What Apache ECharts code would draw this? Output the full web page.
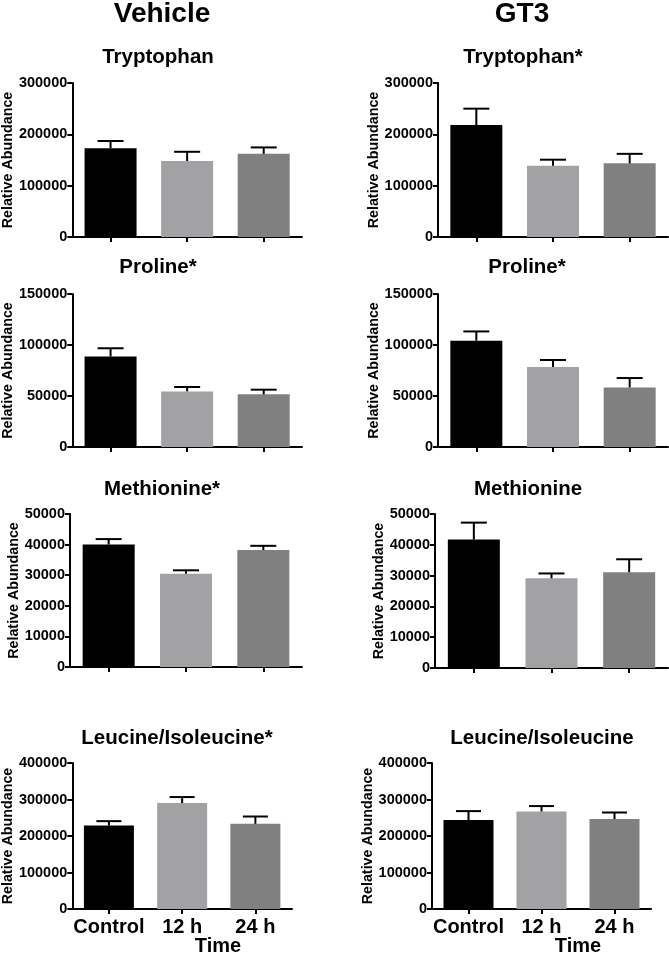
<!DOCTYPE html>
<html>
<head>
<meta charset="utf-8">
<script src="https://cdn.jsdelivr.net/npm/echarts@6/dist/echarts.min.js"></script>
<style>
  html, body { margin: 0; padding: 0; background: #fff; }
  #main { width: 669px; height: 955px; }
</style>
</head>
<body>
<div id="main"></div>
<script>
const categories = ['Control', '12 h', '24 h']
const barColors = ['#000000', '#a2a2a5', '#808080']

// Vehicle column
const vehTrpMean = [173000, 148000, 162000]
const vehTrpSem = [14000, 18000, 12500]
const vehProMean = [88800, 54500, 51600]
const vehProSem = [8000, 4300, 4600]
const vehMetMean = [40000, 30500, 38200]
const vehMetSem = [1800, 1100, 1400]
const vehLeuMean = [228700, 290200, 233400]
const vehLeuSem = [12000, 16500, 20000]

// GT3 column
const gtTrpMean = [218000, 139000, 143500]
const gtTrpSem = [32000, 11600, 18500]
const gtProMean = [104200, 78400, 58400]
const gtProSem = [9100, 6900, 9200]
const gtMetMean = [41700, 29100, 31100]
const gtMetSem = [5500, 1600, 4200]
const gtLeuMean = [243500, 267100, 246300]
const gtLeuSem = [24700, 14900, 18100]

// y axis ranges [max, interval]
const trpAxis = [300000, 100000]
const proAxis = [150000, 50000]
const metAxis = [50000, 10000]
const leuAxis = [400000, 100000]

const font = '"Liberation Sans", Arial, sans-serif'

const panels = [
  { title: 'Tryptophan', tx: 158, ty: 57, grid: { left: 71, top: 83, width: 231, height: 154 }, axis: trpAxis, mean: vehTrpMean, sem: vehTrpSem, gap: 49, barW: 52, labels: false },
  { title: 'Tryptophan*', tx: 523, ty: 57, grid: { left: 438, top: 83, width: 230, height: 154 }, axis: trpAxis, mean: gtTrpMean, sem: gtTrpSem, gap: 54, barW: 52, labels: false },
  { title: 'Proline*', tx: 158, ty: 267, grid: { left: 71, top: 294, width: 231, height: 153 }, axis: proAxis, mean: vehProMean, sem: vehProSem, gap: 50, barW: 52, labels: false },
  { title: 'Proline*', tx: 527, ty: 267, grid: { left: 438, top: 294, width: 230, height: 153 }, axis: proAxis, mean: gtProMean, sem: gtProSem, gap: 54, barW: 52, labels: false },
  { title: 'Methionine*', tx: 162, ty: 489, grid: { left: 70, top: 514, width: 232, height: 153 }, axis: metAxis, mean: vehMetMean, sem: vehMetSem, gap: 46, barW: 52, labels: false },
  { title: 'Methionine', tx: 528, ty: 489, grid: { left: 435, top: 514, width: 233, height: 154 }, axis: metAxis, mean: gtMetMean, sem: gtMetSem, gap: 46, barW: 52, labels: false },
  { title: 'Leucine/Isoleucine*', tx: 177, ty: 738, grid: { left: 71, top: 763, width: 221, height: 146 }, axis: leuAxis, mean: vehLeuMean, sem: vehLeuSem, gap: 49, barW: 50, labels: true },
  { title: 'Leucine/Isoleucine', tx: 542, ty: 738, grid: { left: 432, top: 763, width: 219, height: 146 }, axis: leuAxis, mean: gtLeuMean, sem: gtLeuSem, gap: 49, barW: 50, labels: true }
]

const chart = echarts.init(document.getElementById('main'))

const grid = []
const xAxis = []
const yAxis = []
const series = []
const graphic = []

const textEl = (text, x, y, size) => ({
  type: 'text',
  x: x,
  y: y,
  style: {
    text: text,
    align: 'center',
    verticalAlign: 'middle',
    font: 'bold ' + size + 'px ' + font,
    fill: '#000'
  }
})

graphic.push(textEl('Vehicle', 162, 14, 28))
graphic.push(textEl('GT3', 522, 14, 28))

panels.forEach((p, i) => {
  grid.push(p.grid)
  graphic.push(textEl(p.title, p.tx, p.ty, 20.5))
  xAxis.push({
    type: 'category',
    gridIndex: i,
    data: categories,
    axisLine: { lineStyle: { color: '#000', width: 2 } },
    axisTick: { show: true, alignWithLabel: true, length: 5, lineStyle: { color: '#000', width: 2 } },
    axisLabel: {
      show: p.labels,
      color: '#000',
      fontFamily: font,
      fontWeight: 'bold',
      fontSize: 20,
      margin: 8,
      interval: 0
    },
    splitLine: { show: false }
  })
  yAxis.push({
    type: 'value',
    gridIndex: i,
    min: 0,
    max: p.axis[0],
    interval: p.axis[1],
    name: 'Relative Abundance',
    nameLocation: 'middle',
    nameGap: p.gap,
    nameTextStyle: { color: '#000', fontFamily: font, fontWeight: 'bold', fontSize: 14.3 },
    axisLine: { show: true, lineStyle: { color: '#000', width: 2 } },
    axisTick: { show: true, length: 5, lineStyle: { color: '#000', width: 2 } },
    axisLabel: {
      color: '#000',
      fontFamily: font,
      fontWeight: 'bold',
      fontSize: 14.5,
      margin: 5,
      formatter: v => String(v)
    },
    splitLine: { show: false }
  })
  series.push({
    type: 'bar',
    xAxisIndex: i,
    yAxisIndex: i,
    barWidth: p.barW,
    data: p.mean.map((v, k) => ({ value: v, itemStyle: { color: barColors[k] } })),
    silent: true
  })
  series.push({
    type: 'custom',
    xAxisIndex: i,
    yAxisIndex: i,
    silent: true,
    z: 3,
    data: p.mean.map((v, k) => [k, v, v + p.sem[k]]),
    renderItem: (params, api) => {
      const base = api.coord([api.value(0), api.value(1)])
      const top = api.coord([api.value(0), api.value(2)])
      const half = p.barW / 4
      const style = { stroke: '#000', lineWidth: 2 }
      return {
        type: 'group',
        children: [
          { type: 'line', shape: { x1: base[0], y1: base[1], x2: top[0], y2: top[1] }, style: style },
          { type: 'line', shape: { x1: top[0] - half, y1: top[1], x2: top[0] + half, y2: top[1] }, style: style }
        ]
      }
    }
  })
})

graphic.push(textEl('Time', 218, 946, 20))
graphic.push(textEl('Time', 578, 946, 20))

const option = {
  backgroundColor: '#fff',
  animation: false,
  grid: grid,
  xAxis: xAxis,
  yAxis: yAxis,
  series: series,
  graphic: graphic
}
chart.setOption(option)
</script>
</body>
</html>
